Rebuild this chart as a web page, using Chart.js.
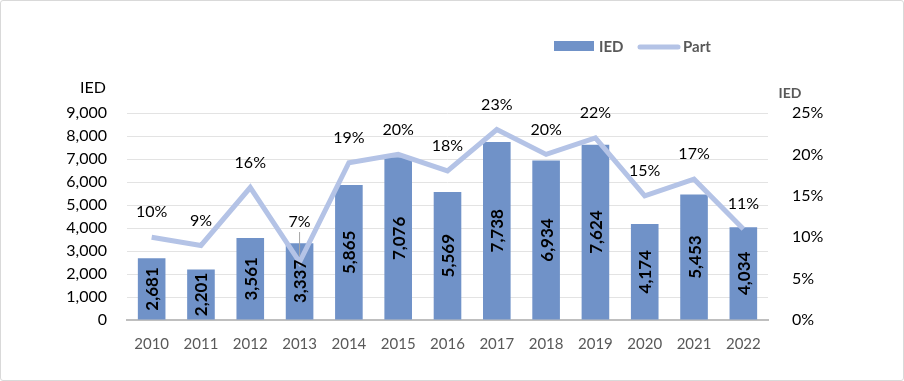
<!DOCTYPE html>
<html>
<head>
<meta charset="utf-8">
<script src="https://cdn.jsdelivr.net/npm/chart.js@4.4.1/dist/chart.umd.min.js"></script>
<style>
    html, body { margin: 0; padding: 0; background: #fff; }
    #wrap { position: relative; width: 904px; height: 381px; box-sizing: border-box; border: 1px solid #d9d9d9; border-radius: 3px; }
</style>
</head>
<body>
<div id="wrap"><canvas id="c"></canvas></div>
<script>
(function () {
    'use strict';

    var years = ['2010', '2011', '2012', '2013', '2014', '2015', '2016', '2017', '2018', '2019', '2020', '2021', '2022'];
    var iedValues = [2681, 2201, 3561, 3337, 5865, 7076, 5569, 7738, 6934, 7624, 4174, 5453, 4034];
    var partValues = [10, 9, 16, 7, 19, 20, 18, 23, 20, 22, 15, 17, 11];
    var leftTicks = [0, 1000, 2000, 3000, 4000, 5000, 6000, 7000, 8000, 9000];
    var rightTicks = [0, 5, 10, 15, 20, 25];

    var colors = {
        bar: '#7092c8',
        line: '#b4c3e6',
        grid: '#e3e3e3',
        axis: '#bfbfbf',
        text: '#000000',
        muted: '#595959'
    };
    var FONT = 'Lato, "Open Sans", sans-serif';

    function fmt(n) {
        return n.toLocaleString('en-US');
    }

    var labelsPlugin = {
        id: 'labels',
        afterDatasetsDraw: function (chart) {
            var ctx = chart.ctx;
            var barMeta = chart.getDatasetMeta(0);
            var lineMeta = chart.getDatasetMeta(1);
            ctx.save();

            // values inside bars, rotated
            ctx.fillStyle = colors.text;
            ctx.font = 'bold 17px ' + FONT;
            ctx.textAlign = 'center';
            ctx.textBaseline = 'middle';
            barMeta.data.forEach(function (bar, i) {
                var cy = (bar.y + bar.base) / 2;
                ctx.save();
                ctx.translate(bar.x, cy);
                ctx.rotate(-Math.PI / 2);
                ctx.fillText(fmt(iedValues[i]), 0, 1);
                ctx.restore();
            });

            // percentages above line points
            ctx.font = '16px ' + FONT;
            lineMeta.data.forEach(function (pt, i) {
                var off = 25;
                if (i === 3) {
                    off = 40;
                    ctx.strokeStyle = '#a6a6a6';
                    ctx.lineWidth = 1;
                    ctx.beginPath();
                    ctx.moveTo(pt.x, pt.y - off + 10);
                    ctx.lineTo(pt.x, pt.y - 6);
                    ctx.stroke();
                }
                ctx.fillText(partValues[i] + '%', pt.x, pt.y - off);
            });

            // axis titles
            ctx.font = '16px ' + FONT;
            ctx.fillText('IED', 92, 87);
            ctx.fillStyle = colors.muted;
            ctx.font = 'bold 14px ' + FONT;
            ctx.fillText('IED', 789, 92);

            // legend
            ctx.fillStyle = colors.bar;
            ctx.fillRect(553, 40, 40, 10);
            ctx.strokeStyle = colors.line;
            ctx.lineWidth = 5;
            ctx.lineCap = 'round';
            ctx.beginPath();
            ctx.moveTo(639, 46);
            ctx.lineTo(677, 46);
            ctx.stroke();
            ctx.fillStyle = colors.muted;
            ctx.font = 'bold 15px ' + FONT;
            ctx.textAlign = 'left';
            ctx.fillText('IED', 598, 46);
            ctx.fillText('Part', 682, 46);

            ctx.restore();
        }
    };

    var ctx = document.getElementById('c').getContext('2d');
    new Chart(ctx, {
        type: 'bar',
        data: {
            labels: years,
            datasets: [
                {
                    type: 'bar',
                    label: 'IED',
                    data: iedValues,
                    backgroundColor: colors.bar,
                    categoryPercentage: 1,
                    barPercentage: 0.56,
                    yAxisID: 'y',
                    order: 2
                },
                {
                    type: 'line',
                    label: 'Part',
                    data: partValues,
                    borderColor: colors.line,
                    borderWidth: 5,
                    pointRadius: 0,
                    tension: 0,
                    yAxisID: 'y1',
                    order: 1
                }
            ]
        },
        options: {
            responsive: true,
            maintainAspectRatio: false,
            animation: false,
            layout: { padding: { top: 112, left: 0, right: 0, bottom: 0 } },
            plugins: {
                legend: { display: false },
                tooltip: { enabled: false }
            },
            scales: {
                x: {
                    grid: { display: false },
                    border: { color: colors.axis, width: 2 },
                    ticks: { color: colors.muted, font: { family: FONT, size: 15 }, padding: 7 },
                    afterFit: function (s) { s.height = 60; }
                },
                y: {
                    position: 'left',
                    min: 0,
                    max: 9000,
                    afterBuildTicks: function (s) {
                        s.ticks = leftTicks.map(function (v) { return { value: v }; });
                    },
                    grid: { color: colors.grid, drawTicks: false },
                    border: { display: false },
                    ticks: {
                        color: colors.text,
                        font: { family: FONT, size: 16 },
                        padding: 20,
                        callback: function (v) { return fmt(v); }
                    },
                    afterFit: function (s) { s.width = 126; }
                },
                y1: {
                    position: 'right',
                    min: 0,
                    max: 25,
                    afterBuildTicks: function (s) {
                        s.ticks = rightTicks.map(function (v) { return { value: v }; });
                    },
                    grid: { display: false },
                    border: { display: false },
                    ticks: {
                        color: colors.text,
                        font: { family: FONT, size: 16 },
                        padding: 16,
                        callback: function (v) { return v + '%'; }
                    },
                    afterFit: function (s) { s.width = 135; }
                }
            }
        },
        plugins: [labelsPlugin]
    });
})();
</script>
</body>
</html>
